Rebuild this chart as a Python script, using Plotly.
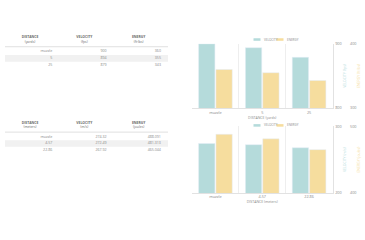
import plotly.graph_objects as go

# ---- data ----
dist_yards = ["muzzle", "5", "25"]
vel_fps = [900, 894, 879]
energy_ftlbs = [360, 355, 343]

dist_m = ["muzzle", "4.57", "22.86"]
vel_ms = [274.32, 272.49, 267.92]
energy_j = [488.091, 481.313, 465.044]

table1_headers = ["<b>DISTANCE</b><br>(yards)", "<b>VELOCITY</b><br>(fps)", "<b>ENERGY</b><br>(ft·lbs)"]
table2_headers = ["<b>DISTANCE</b><br>(meters)", "<b>VELOCITY</b><br>(m/s)", "<b>ENERGY</b><br>(joules)"]

TEAL = "#b5dbdb"
YELLOW = "#f6dd9e"
GRAY = "#8a8a8a"
FONT = "Open Sans"
W, H = 365, 240


def px_y(p):
    return 1 - p / H


def px_x(p):
    return p / W


fig = go.Figure()

# ---- tables drawn as text on their own axes (column index x, row index y) ----
def add_table(headers, cols, xa, ya, ya_name, top, bottom, row0, pitch):
    n = len(cols[0])
    # header
    fig.add_trace(go.Scatter(
        x=[i + 0.46 for i in range(len(headers))], y=[-1.75] * len(headers),
        text=headers, mode="text", textposition="middle center",
        textfont=dict(size=3.4, color="#6a6a6a", family=FONT),
        xaxis=xa, yaxis=ya, showlegend=False, hoverinfo="skip"))
    # body
    for ci, col in enumerate(cols):
        fig.add_trace(go.Scatter(
            x=[ci + 0.87] * n, y=list(range(n)), text=col, mode="text",
            textposition="middle left",
            textfont=dict(size=3.6, color=GRAY, family=FONT),
            xaxis=xa, yaxis=ya, showlegend=False, hoverinfo="skip"))
    # shaded alternate rows
    for r in range(n):
        if r % 2 == 1:
            fig.add_shape(type="rect", xref=xa, yref=ya, x0=0, x1=len(cols),
                          y0=r - 0.5, y1=r + 0.5, fillcolor="#f1f1f1",
                          line=dict(width=0), layer="below")
    # header rule
    fig.add_shape(type="line", xref=xa, yref=ya, x0=0, x1=len(cols),
                  y0=-0.72, y1=-0.72, line=dict(color="#d8d8d8", width=0.8))
    r_top = (top - row0) / pitch
    r_bot = (bottom - row0) / pitch
    ax = dict(visible=False, range=[0, len(cols)], fixedrange=True,
              domain=[px_x(5), px_x(168)])
    ay = dict(visible=False, range=[r_bot, r_top], fixedrange=True,
              domain=[px_y(bottom), px_y(top)])
    return ax, ay


tx1, ty1 = add_table(table1_headers,
                     [dist_yards, [str(v) for v in vel_fps], [str(v) for v in energy_ftlbs]],
                     "x3", "y5", "yaxis5", 30, 70, 49.6, 6.9)
tx2, ty2 = add_table(table2_headers,
                     [dist_m, [f"{v:.2f}" for v in vel_ms], [f"{v:.3f}" for v in energy_j]],
                     "x4", "y6", "yaxis6", 117, 157, 136.7, 6.7)
tx1["anchor"] = "y5"; ty1["anchor"] = "x3"
tx2["anchor"] = "y6"; ty2["anchor"] = "x4"

# ---- charts ----
def add_chart(cats, vel, en, xa, ya, ya2):
    fig.add_trace(go.Bar(x=cats, y=vel, marker_color=TEAL, xaxis=xa, yaxis=ya,
                         showlegend=False, name="VELOCITY", offsetgroup="v"))
    fig.add_trace(go.Bar(x=cats, y=en, marker_color=YELLOW, xaxis=xa, yaxis=ya2,
                         showlegend=False, name="ENERGY", offsetgroup="e"))


add_chart(dist_yards, vel_fps, energy_ftlbs, "x", "y", "y2")
add_chart(dist_m, vel_ms, energy_j, "x2", "y3", "y4")

tickf = dict(size=3.8, color=GRAY, family=FONT)
xdom = [px_x(192), px_x(332.5)]


def xaxis(title, anchor):
    return dict(domain=xdom, anchor=anchor, type="category",
                tickson="boundaries", showgrid=True, gridcolor="#eeeeee", gridwidth=0.6,
                showline=True, linecolor="#e2e2e2", linewidth=0.8,
                ticks="", tickfont=tickf, ticklabelstandoff=0,
                title=dict(text=title, font=dict(size=3.5, color=GRAY, family=FONT), standoff=1),
                fixedrange=True)


def yaxis(dom, rng, title, color, anchor=None, position=None, overlay=None):
    d = dict(domain=dom, range=rng, dtick=100, side="right",
             gridcolor="#eeeeee", gridwidth=0.6, zeroline=False,
             ticks="", tickfont=tickf, ticklabelstandoff=1, fixedrange=True,
             title=dict(text=title, font=dict(size=3.5, color=color, family=FONT), standoff=2))
    if overlay:
        d.update(overlaying=overlay, anchor="free", position=position,
                 showgrid=False, showline=False)
    else:
        d.update(anchor=anchor, showgrid=True, showline=True,
                 linecolor="#e2e2e2", linewidth=0.8)
    return d


y1dom = [px_y(107.3), px_y(41.7)]
y2dom = [px_y(194), px_y(126)]

fig.update_layout(
    width=W, height=H, margin=dict(l=0, r=0, t=0, b=0),
    paper_bgcolor="white", plot_bgcolor="white",
    font=dict(family=FONT, color=GRAY),
    barmode="group", bargap=0.26, bargroupgap=0.06,
    xaxis=xaxis("DISTANCE (yards)", "y"),
    xaxis2=xaxis("DISTANCE (meters)", "y3"),
    yaxis=yaxis(y1dom, [800, 900], "VELOCITY (fps)", TEAL, anchor="x"),
    yaxis2=yaxis(y1dom, [300, 400], "ENERGY (ft·lbs)", YELLOW, position=px_x(348), overlay="y"),
    yaxis3=yaxis(y2dom, [200, 300], "VELOCITY (m/s)", TEAL, anchor="x2"),
    yaxis4=yaxis(y2dom, [400, 500], "ENERGY (joules)", YELLOW, position=px_x(348), overlay="y3"),
    xaxis3=tx1, yaxis5=ty1, xaxis4=tx2, yaxis6=ty2,
)

# legends (small swatches + labels)
for ly in (37.3, 125):
    for (x0, x1, col, lab, tx) in ((253.5, 260.5, TEAL, "VELOCITY", 261.5),
                                   (276.5, 283.5, YELLOW, "ENERGY", 284.5)):
        fig.add_shape(type="rect", xref="paper", yref="paper",
                      x0=px_x(x0), x1=px_x(x1), y0=px_y(ly + 1.3), y1=px_y(ly - 1.3),
                      fillcolor=col, line=dict(width=0))
        fig.add_annotation(xref="paper", yref="paper", x=px_x(tx), y=px_y(ly),
                           text=lab, showarrow=False, xanchor="left", yanchor="middle",
                           font=dict(size=3.0, color=GRAY, family=FONT))

fig.write_html("out.html")
